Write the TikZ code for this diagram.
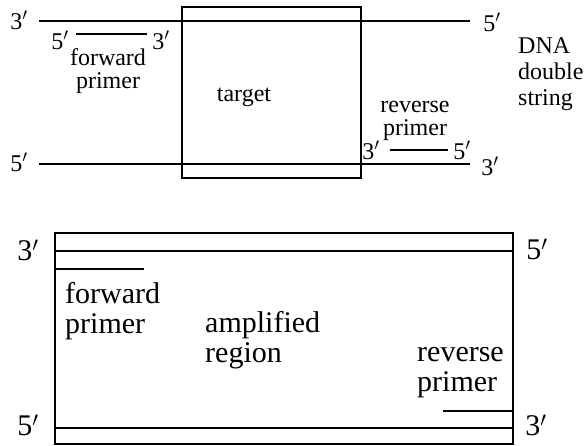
\documentclass[tikz,border=0pt]{standalone}
\usepackage{fontspec}
\setmainfont{Liberation Serif}
\begin{document}
\begin{tikzpicture}[x=1pt,y=-1pt,
  strand/.style={line width=1.9pt},
  primer/.style={line width=1.4pt},
  small/.style={font=\fontsize{24}{22.5}\selectfont, inner sep=0pt, align=center},
  big/.style={font=\fontsize{30}{30}\selectfont, inner sep=0pt, align=left}]
\useasboundingbox (0,0) rectangle (588,446);

\draw[line width=1.2pt] (182,7) rectangle (361,178);
\draw[strand] (39,21) -- (470,21);
\draw[strand] (39,164) -- (470,164);

\node[small] (top3) at (19,20) {3$'$};
\node[small] (bot5) at (19,162) {5$'$};
\node[small] (top5) at (492,22) {5$'$};
\node[small] (bot3) at (490,166) {3$'$};

\node[small] (fwd5) at (60,40) {5$'$};
\node[small] (fwd3) at (161,40) {3$'$};
\coordinate (fwdl) at (76,34);
\coordinate (fwdr) at (147,34);
\draw[primer] (fwdl) -- (fwdr);
\node[small] (fwd) at (108,71) {forward\\primer};

\node[small] (target) at (244,97) {target};

\node[small] (rev) at (415,121) {reverse\\primer};
\node[small] (rev3) at (371,150) {3$'$};
\node[small] (rev5) at (462,150) {5$'$};
\coordinate (revl) at (390,150);
\coordinate (revr) at (448,150);
\draw[primer] (revl) -- (revr);

\node[small, font=\fontsize{24}{26}\selectfont, align=left, anchor=west] (dna) at (518,74) {DNA\\double\\string};

\draw[line width=1.6pt] (55,233) rectangle (513,444);
\draw[strand] (55,251) -- (513,251);
\draw[strand] (55,428) -- (513,428);
\coordinate (ampfl) at (55,269);
\coordinate (ampfr) at (144,269);
\draw[primer] (ampfl) -- (ampfr);
\coordinate (amprl) at (443,411);
\coordinate (amprr) at (513,411);
\draw[primer] (amprl) -- (amprr);

\node[big] (amp3) at (28,250) {3$'$};
\node[big] (amp5) at (537,249) {5$'$};
\node[big] (ampb5) at (28,425) {5$'$};
\node[big] (ampb3) at (536,425) {3$'$};

\node[big, anchor=west] (ampfwd) at (65,311) {forward\\primer};
\node[big, anchor=west] (region) at (205,340) {amplified\\region};
\node[big, anchor=west] (amprev) at (417,373) {reverse\\primer};
\end{tikzpicture}
\end{document}
